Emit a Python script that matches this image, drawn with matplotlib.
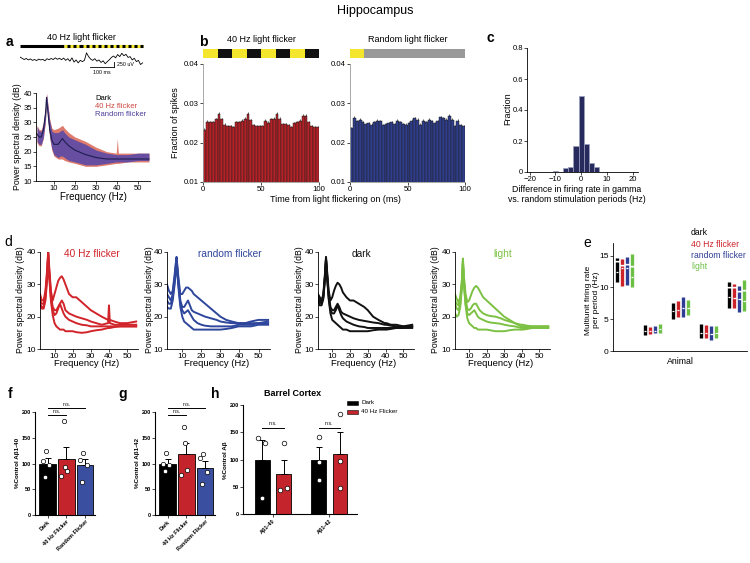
import matplotlib
matplotlib.use("Agg")
import matplotlib.pyplot as plt
import numpy as np
from matplotlib.patches import Rectangle

plt.rcParams['font.family'] = ['Liberation Sans', 'DejaVu Sans']

# ---------------- data ----------------
# panel a: example LFP trace (uV), evenly sampled over 0-510 ms
TRACE_UV = [100, 40, -20, 30, -40, 10, -60, -20, -70, 0, -40,
            -10, -80, 20, -30, 30, -20, 60, -10, 40, -30,
            50, -60, 20, -100, 60, -140, -40, -180, -60, -120,
            -60, 300, 120, 0,
            -60, 20, -100, -40, -160, -80, -220, -120, -30, 80, 150,
            60, 220, 120, 280, 160, 230, 80,
            120, -40, 40, -120, -60, -260, -180]
FREQ_A = [2, 3, 4, 5, 6, 6.5, 7, 8, 9, 10, 12, 13, 14, 15, 17, 20, 25, 30, 35, 39.5, 40, 40.5, 45, 50, 55]
A_RED_HI = [29, 27.5, 27.5, 30, 35.5, 40, 37, 31, 28, 27.5, 28, 28.5, 29, 28, 26.5, 25, 23.5, 21.5, 20, 19.5, 24.5, 19.5, 19.5, 19.5, 19.5]
A_RED_LO = [23, 22, 22, 24.5, 30.5, 37, 32, 24.5, 20.5, 18.5, 17.5, 17.5, 17.5, 17, 16.5, 16, 15, 15, 15.5, 16, 16, 16, 16.5, 16.5, 16.5]
A_RND_HI = [28.5, 27, 27, 29.5, 35, 39.5, 36.5, 30.5, 27, 26.5, 26.5, 27, 27.5, 26.5, 25, 24, 22.5, 20.5, 19.5, 19, 19, 19, 19, 19.5, 19.5]
A_RND_LO = [23.5, 22.5, 22.5, 25, 31, 37, 32, 25, 21, 19, 18, 18.5, 18.5, 18, 17, 16.5, 15.5, 15.5, 16, 16.5, 16.5, 16.5, 16.5, 17, 17]
A_MEAN = [26, 25, 25, 27.5, 33, 38.5, 34.5, 27.5, 24, 22.5, 22.5, 23.5, 24.5, 23.5, 22, 20.5, 19, 18, 17.5, 17.5, 17.5, 17.5, 17.5, 17.5, 17.5]

# panel b: spike fraction per 2.5 ms bin
B_RED = [0.0233, 0.0253, 0.0253, 0.0253, 0.0259, 0.0274, 0.0259, 0.0246, 0.0242, 0.0242,
         0.0240, 0.0253, 0.0253, 0.0256, 0.0261, 0.0274, 0.0257, 0.0244, 0.0242, 0.0242,
         0.0242, 0.0255, 0.0251, 0.0259, 0.0261, 0.0274, 0.0261, 0.0247, 0.0247, 0.0244,
         0.0240, 0.0250, 0.0252, 0.0255, 0.0268, 0.0268, 0.0253, 0.0243, 0.0239, 0.0239]
B_RED_ERR = [0.0004, 0.0004, 0.0003, 0.0003, 0.0004, 0.0004, 0.0003, 0.0003, 0.0003, 0.0003,
             0.0003, 0.0003, 0.0003, 0.0004, 0.0004, 0.0004, 0.0003, 0.0003, 0.0003, 0.0003,
             0.0003, 0.0004, 0.0003, 0.0004, 0.0004, 0.0004, 0.0003, 0.0003, 0.0003, 0.0003,
             0.0003, 0.0003, 0.0003, 0.0004, 0.0004, 0.0004, 0.0003, 0.0003, 0.0003, 0.0003]
B_BLUE = [0.0237, 0.0263, 0.0255, 0.0258, 0.0252, 0.0248, 0.0250, 0.0246, 0.0252, 0.0256,
          0.0254, 0.0244, 0.0248, 0.0250, 0.0252, 0.0248, 0.0256, 0.0252, 0.0248, 0.0246,
          0.0250, 0.0256, 0.0262, 0.0258, 0.0246, 0.0256, 0.0252, 0.0258, 0.0254, 0.0250,
          0.0254, 0.0264, 0.0262, 0.0258, 0.0268, 0.0258, 0.0242, 0.0255, 0.0245, 0.0242]
B_BLUE_ERR = [0.0004, 0.0004, 0.0003, 0.0004, 0.0003, 0.0003, 0.0003, 0.0003, 0.0004, 0.0003,
              0.0003, 0.0003, 0.0003, 0.0003, 0.0004, 0.0003, 0.0004, 0.0003, 0.0003, 0.0003,
              0.0003, 0.0004, 0.0004, 0.0004, 0.0003, 0.0004, 0.0003, 0.0004, 0.0003, 0.0003,
              0.0003, 0.0004, 0.0004, 0.0004, 0.0005, 0.0004, 0.0003, 0.0004, 0.0003, 0.0004]

# panel c: histogram of firing-rate differences
C_CENTERS = [-10, -6, -4, -2, 0, 2, 4, 6]
C_FRACTION = [0.005, 0.025, 0.035, 0.17, 0.49, 0.18, 0.06, 0.03]

# panel d: PSD per animal
FREQ_D = [2, 3, 4, 5, 6, 6.5, 7, 8, 9, 10, 11, 12, 13, 14, 15, 16, 18, 20, 22, 25, 28, 30, 33, 36, 39.5, 40, 40.5, 43, 46, 50, 55]
D_FLICKER = [
    [27, 25, 25, 28, 35, 40, 36, 28, 25, 27, 29, 31, 32, 32.5, 31.5, 30, 27, 26, 26, 24.5, 23, 22, 21, 20, 19, 19, 19, 18.5, 18, 18, 18.5],
    [25, 24, 24, 27, 34, 40, 35, 27, 23, 22, 22, 23, 24, 25, 24, 22, 21, 20.5, 20, 19.5, 19, 18.5, 18, 17.5, 18, 23.5, 18, 17.5, 17.5, 17.5, 17.5],
    [24, 23, 23, 26, 33, 39.5, 34, 26, 22, 20.5, 21, 22.5, 24, 22.5, 21, 20, 19, 18.5, 18, 17.5, 17.3, 17, 17, 17, 17, 17, 17, 17, 17, 17, 17],
    [23.5, 22.5, 22.5, 25, 32, 39, 33, 25, 20.5, 18, 17, 16.5, 16, 16, 16, 15.5, 15.5, 15.5, 15.2, 15, 15.2, 15.5, 15.8, 16, 16.5, 16.5, 16.5, 16.8, 17, 17, 17]]
D_RANDOM = [
    [30, 28, 27, 28, 33, 36, 38.5, 32, 27, 27, 28, 29, 29, 28.5, 28, 27, 26, 25, 24, 22.5, 21, 20, 19, 18.5, 18, 18, 18, 18, 18.5, 19, 19],
    [27, 26, 25, 27, 32, 35, 38, 31, 25, 23, 23, 24, 25, 23.5, 22, 21.5, 21, 20.5, 20, 19.5, 19, 18.5, 18.2, 18, 18, 18, 18, 18, 18, 18, 18.5],
    [25, 24, 24, 26, 31, 34, 37.5, 30, 24, 22, 21, 21.5, 22, 21, 20, 19, 18, 17.5, 17.2, 17, 17, 17, 17, 17, 17.5, 17.5, 17.5, 17.5, 17.5, 18, 18],
    [23, 22.5, 22.5, 25, 30, 33, 37, 29, 23, 20, 18.5, 18, 17.5, 17, 16.5, 16, 16, 16, 16, 16, 16, 16, 16.2, 16.5, 17, 17, 17, 17, 17, 17.5, 17.5]]
D_DARK = [
    [27, 26, 25, 27, 34, 38.5, 35, 28, 25, 26, 28, 29.5, 30.5, 30, 29, 27.5, 26, 25, 25, 24, 23, 22, 20, 19, 18, 18, 18, 17.5, 17.5, 17, 17],
    [26, 25, 24.5, 26.5, 33, 38, 34, 27, 23, 22, 22, 23, 24, 23, 21.5, 21, 20.5, 20, 19.5, 19, 18.7, 18.5, 18.2, 18, 17.5, 17.5, 17.5, 17.2, 17, 17, 17.5],
    [25.5, 24.5, 24, 26, 33, 38, 33.5, 26, 22, 21, 21, 22, 23.5, 22, 20.5, 19.5, 18.5, 18, 17.5, 17, 16.8, 16.5, 16.5, 16.5, 16.5, 16.5, 16.5, 16.5, 16.5, 16.5, 17],
    [25, 23.5, 23.5, 25.5, 32, 37.5, 33, 25.5, 21, 19, 18.5, 18, 17.5, 17, 16.5, 16, 16, 15.5, 15.5, 15.5, 15.5, 15.5, 15.8, 16, 16, 16, 16, 16.2, 16.5, 16.5, 16.5]]
D_LIGHT = [
    [27, 25.5, 24.5, 26, 32, 38, 33, 27, 24.5, 25, 26.5, 28, 29, 29.5, 29, 28, 26, 25, 24, 22.5, 21, 20, 19, 18, 17.5, 17.5, 17.5, 17.2, 17, 17, 17],
    [25, 24, 23.5, 25.5, 31, 37.5, 32, 25.5, 22.5, 22, 22.5, 23.5, 24, 24, 23, 22, 21, 20.5, 20.2, 20, 19.5, 19, 18.5, 18, 17, 17, 17, 17, 17, 17, 17],
    [24, 22.5, 22, 24, 30, 37, 31, 24, 21, 20.5, 21, 21.5, 22, 21, 20, 19.5, 19, 18.5, 18.2, 18, 17.8, 17.5, 17.2, 17, 16.5, 16.5, 16.5, 16.5, 16.5, 16.5, 16.5],
    [21, 20, 20.5, 23, 29.5, 36.5, 30.5, 23.5, 19.5, 18, 17.5, 17, 16.5, 16.5, 16, 16, 16, 16, 15.8, 15.5, 15.5, 15.5, 15.8, 16, 16, 16, 16, 16.2, 16.5, 16.5, 16.5]]

# panel e: multiunit firing rate ranges per animal
E_ANIMALS = [1, 2, 3, 4, 5]
E_DARK_LO = [10.9, 2.5, 5.0, 2.0, 6.8]
E_DARK_HI = [14.6, 4.1, 7.6, 4.2, 10.9]
E_DARK_MED = [12.5, 3.1, 6.3, 2.8, 8.5]
E_RED_LO = [10.2, 2.6, 5.3, 2.0, 6.7]
E_RED_HI = [14.5, 3.8, 7.9, 4.1, 10.5]
E_RED_MED = [13.0, 3.1, 6.5, 2.8, 8.4]
E_BLUE_LO = [10.4, 2.8, 5.3, 1.7, 6.2]
E_BLUE_HI = [14.8, 3.9, 8.7, 4.0, 10.2]
E_BLUE_MED = [13.1, 3.2, 6.8, 2.6, 8.2]
E_GREEN_LO = [10.0, 2.8, 5.6, 2.0, 6.3]
E_GREEN_HI = [15.3, 4.3, 8.1, 4.0, 11.1]
E_GREEN_MED = [11.7, 3.4, 6.8, 2.8, 7.9]

# panels f, g: % control Abeta
FG_CATS = ['Dark', '40 Hz Flicker', 'Random Flicker']
F_MEANS = [100, 108, 97]
F_ERR = [10, 25, 11]
F_PTS = [[125, 105, 98, 73], [182, 93, 85, 75], [121, 107, 98, 65]]
G_MEANS = [100, 119, 92]
G_ERR = [8, 21, 13]
G_PTS = [[120, 100, 97, 85], [170, 140, 88, 77], [118, 110, 83, 60]]

# panel h: barrel cortex
H_GROUPS = ['Aβ1-40', 'Aβ1-42']
H_DARK = [100, 100]
H_DARK_ERR = [36, 23]
H_FLICK = [73, 110]
H_FLICK_ERR = [27, 40]
H_DARK_PTS = [[140, 131, 29], [141, 96, 62]]
H_FLICK_PTS = [[130, 44, 48], [183, 97, 48]]

# ---------------- layout helpers ----------------
W, H = 750, 563
fig = plt.figure(figsize=(W / 100, H / 100), dpi=100)


def axp(x0, y0, x1, y1):
    return fig.add_axes([x0 / W, 1 - y1 / H, (x1 - x0) / W, (y1 - y0) / H])


def txt(x, y, s, **kw):
    kw.setdefault('ha', 'center')
    kw.setdefault('va', 'center')
    return fig.text(x / W, 1 - y / H, s, **kw)


def clean(ax, lw=0.6, color='black', ls=6):
    for s in ['top', 'right']:
        ax.spines[s].set_visible(False)
    for s in ['left', 'bottom']:
        ax.spines[s].set_linewidth(lw)
        ax.spines[s].set_color(color)
    ax.tick_params(labelsize=ls, length=2, width=0.5, pad=1)


YELLOW = '#f3e62c'

txt(375, 11, 'Hippocampus', fontsize=9)
for lab, x, y, bold in [('a', 9, 42, True), ('b', 203, 42, True), ('c', 490, 38, True),
                        ('d', 8, 242, False), ('e', 587, 243, False),
                        ('f', 10, 394, True), ('g', 123, 394, True), ('h', 215, 394, True)]:
    txt(x, y, lab, fontsize=10, weight='bold' if bold else 'normal')

# ---------------- panel a ----------------
axt = axp(20, 33, 145, 80)
axt.set_xlim(0, 520)
axt.set_ylim(-1000, 1250)
axt.axis('off')
axt.plot([0, 185], [650, 650], color='black', lw=2.2, solid_capstyle='butt')
axt.plot([185, 510], [650, 650], color=YELLOW, lw=2.2, solid_capstyle='butt')
t0 = 185 + 12.5
while t0 < 510:
    axt.plot([t0, min(t0 + 12.5, 510)], [650, 650], color='black', lw=2.2, solid_capstyle='butt')
    t0 += 25
t = np.linspace(0, 510, len(TRACE_UV))
axt.plot(t, TRACE_UV, color='black', lw=0.6)
axt.plot([291, 391], [-400, -400], color='black', lw=0.6)
axt.plot([391, 391], [-400, -150], color='black', lw=0.6)
axt.text(341, -520, '100 ms', fontsize=3.8, ha='center', va='top')
axt.text(405, -280, '250 uV', fontsize=3.8, ha='left', va='center')
txt(81, 37, '40 Hz light flicker', fontsize=6.5)

axa = axp(36, 93, 150, 181)
axa.fill_between(FREQ_A, A_RED_LO, A_RED_HI, color='#de7b6c', lw=0)
axa.fill_between(FREQ_A, A_RND_LO, A_RND_HI, color='#5a4aa6', alpha=0.9, lw=0)
axa.plot(FREQ_A, A_MEAN, color='#1e1d50', lw=0.8)
axa.set_xlim(1.5, 55.5)
axa.set_ylim(10, 40)
axa.set_xticks([10, 20, 30, 40, 50])
axa.set_yticks([10, 15, 20, 25, 30, 35, 40])
clean(axa, ls=5.5)
txt(18, 137, 'Power spectral density (dB)', rotation=90, fontsize=6.2)
txt(93, 197, 'Frequency (Hz)', fontsize=7)
txt(95, 98, 'Dark', fontsize=5.5, ha='left', color='black')
txt(95, 106, '40 Hz flicker', fontsize=5.5, ha='left', color='#d0473f')
txt(95, 114, 'Random flicker', fontsize=5.5, ha='left', color='#4a3e98')

# ---------------- panel b ----------------
bins = np.arange(len(B_RED)) * 2.5 + 1.25
for (x0, x1), vals, errs, col, title in [((203, 319), B_RED, B_RED_ERR, '#b52126', '40 Hz light flicker'),
                                         ((350, 465), B_BLUE, B_BLUE_ERR, '#2e3d8c', 'Random light flicker')]:
    ax = axp(x0, 64, x1, 182)
    ax.bar(bins, vals, width=2.5, color=col, edgecolor='#222222', linewidth=0.35,
           yerr=[np.zeros(len(errs)), errs], error_kw=dict(ecolor='#222222', elinewidth=0.5, capsize=0))
    ax.set_xlim(0, 100)
    ax.set_ylim(0.01, 0.04)
    ax.set_xticks([0, 50, 100])
    ax.set_yticks([0.01, 0.02, 0.03, 0.04])
    clean(ax, color='#9a9a9a', ls=5.6)
    axs = axp(x0, 49, x1, 58)
    axs.set_xlim(0, 100)
    axs.set_ylim(0, 1)
    axs.axis('off')
    if col == '#b52126':
        for k in range(8):
            axs.add_patch(Rectangle((k * 12.5, 0), 12.5, 1, color=YELLOW if k % 2 == 0 else '#111111', lw=0))
    else:
        axs.add_patch(Rectangle((0, 0), 12.5, 1, color=YELLOW, lw=0))
        axs.add_patch(Rectangle((12.5, 0), 87.5, 1, color='#999999', lw=0))
    txt((x0 + x1) / 2, 40, title, fontsize=6.5)
txt(335, 199, 'Time from light flickering on (ms)', fontsize=6.5)
txt(176, 123, 'Fraction of spikes', rotation=90, fontsize=6.5)

# ---------------- panel c ----------------
axc = axp(527, 48, 638, 172)
axc.bar(C_CENTERS, C_FRACTION, width=2, color='#262a5c', edgecolor='#9da0bd', linewidth=0.5)
axc.set_xlim(-21, 22)
axc.set_ylim(0, 0.8)
axc.set_xticks([-20, -10, 0, 10, 20])
axc.set_yticks([0, 0.2, 0.4, 0.6, 0.8])
axc.set_yticklabels(['0', '0.2', '0.4', '0.6', '0.8'])
clean(axc, ls=5.5)
txt(508, 109, 'Fraction', rotation=90, fontsize=6.5)
txt(577, 189, 'Difference in firing rate in gamma', fontsize=6.3)
txt(577, 200, 'vs. random stimulation periods (Hz)', fontsize=6.3)

# ---------------- panel d ----------------
D_BOX = [(40, 252, 138, 349), (167, 252, 270, 349), (318, 252, 414, 349), (455, 252, 550, 349)]
D_YLAB_X = [21, 149, 299, 436]
D_SETS = [(D_FLICKER, '#d1242a', '40 Hz flicker'), (D_RANDOM, '#2e469c', 'random flicker'),
          (D_DARK, '#111111', 'dark'), (D_LIGHT, '#7cc143', 'light')]
D_TITLE_X = [92, 230, 361, 503]
for box, ylx, (curves, col, name), tx in zip(D_BOX, D_YLAB_X, D_SETS, D_TITLE_X):
    ax = axp(*box)
    for c in curves:
        ax.plot(FREQ_D, c, color=col, lw=1.4)
    ax.set_xlim(2, 56)
    ax.set_ylim(10, 40)
    ax.set_xticks([10, 20, 30, 40, 50])
    ax.set_yticks([10, 20, 30, 40])
    clean(ax, ls=6)
    txt(ylx, 300, 'Power spectral density (dB)', rotation=90, fontsize=6.2)
    txt((box[0] + box[2]) / 2 - 2, 364, 'Frequency (Hz)', fontsize=6.8)
    txt(tx, 254, name, fontsize=7.3, color=col)

# ---------------- panel e ----------------
axe = axp(613, 243, 747, 351)
E_SETS = [(E_DARK_LO, E_DARK_HI, E_DARK_MED, '#000000'),
          (E_RED_LO, E_RED_HI, E_RED_MED, '#cc2229'),
          (E_BLUE_LO, E_BLUE_HI, E_BLUE_MED, '#2e3d94'),
          (E_GREEN_LO, E_GREEN_HI, E_GREEN_MED, '#6cbf45')]
E_OFFS = [-0.27, -0.09, 0.09, 0.27]
for (lo, hi, med, col), off in zip(E_SETS, E_OFFS):
    xs = np.array(E_ANIMALS) + off
    axe.vlines(xs, lo, hi, color=col, lw=2.4, linestyles=[(0, (6, 0.5))])
    axe.hlines(med, xs - 0.05, xs + 0.05, color='white', lw=0.9)
axe.set_xlim(0.59, 5.37)
axe.set_ylim(0, 17)
axe.set_yticks([0, 5, 10, 15])
axe.set_xticks([])
clean(axe, ls=6)
txt(593, 300, 'Multiunit firing rate\nper period (Hz)', rotation=90, fontsize=6)
txt(680, 362, 'Animal', fontsize=6.3)
for i, (lab, col) in enumerate([('dark', '#000000'), ('40 Hz flicker', '#cc2229'),
                                ('random flicker', '#2e3d94'), ('light', '#6cbf45')]):
    txt(691, 233 + i * 11.3, lab, fontsize=6.2, ha='left', color=col)

# ---------------- panels f, g ----------------
FG_COLS = ['#000000', '#c4242b', '#3a4f9f']
JIT = [[-0.1, -0.25, 0.08, -0.12], [-0.15, -0.08, 0.05, -0.28], [-0.12, -0.28, 0.1, -0.15]]
for (x0, x1), means, errs, pts, ylab in [((35, 95), F_MEANS, F_ERR, F_PTS, '%Control Aβ1-40'),
                                         ((155, 215), G_MEANS, G_ERR, G_PTS, '%Control Aβ1-42')]:
    ax = axp(x0, 412, x1, 515)
    xs = np.arange(len(means))
    ax.bar(xs, means, width=0.9, color=FG_COLS, edgecolor='black', linewidth=0.6,
           yerr=[np.zeros(len(errs)), errs], error_kw=dict(ecolor='black', elinewidth=0.7, capsize=2, capthick=0.7))
    for i, p in enumerate(pts):
        ax.scatter(xs[i] + np.array(JIT[i]), p, s=10, facecolor='white', edgecolor='black', linewidth=0.5, zorder=5)
    ax.set_xlim(-0.68, 2.54)
    ax.set_ylim(0, 200)
    ax.set_yticks([0, 50, 100, 150, 200])
    ax.set_xticks(xs)
    ax.set_xticklabels(FG_CATS, rotation=45, ha='right', rotation_mode='anchor', fontsize=4.6, weight='bold')
    clean(ax, lw=0.8, ls=4)
    for lbl in ax.get_yticklabels():
        lbl.set_weight('bold')
    ax.plot([0, 2], [208, 208], color='black', lw=0.7, clip_on=False)
    ax.plot([0, 1], [195, 195], color='black', lw=0.7, clip_on=False)
    ax.text(1, 210, 'n.s.', fontsize=3.6, ha='center', va='bottom')
    ax.text(0.5, 196.5, 'n.s.', fontsize=3.6, ha='center', va='bottom')
    txt(x0 - 17, 463, ylab, rotation=90, fontsize=4.5, weight='bold')

# ---------------- panel h ----------------
axh = axp(243, 405, 357, 514)
gx = np.arange(len(H_GROUPS))
axh.bar(gx - 0.19, H_DARK, width=0.26, color='#000000', edgecolor='black', linewidth=0.6,
        yerr=[[0, 0], H_DARK_ERR], error_kw=dict(ecolor='black', elinewidth=0.7, capsize=2, capthick=0.7))
axh.bar(gx + 0.19, H_FLICK, width=0.26, color='#c4242b', edgecolor='black', linewidth=0.6,
        yerr=[[0, 0], H_FLICK_ERR], error_kw=dict(ecolor='black', elinewidth=0.7, capsize=2, capthick=0.7))
H_JIT_D = [[-0.07, 0.05, 0.0], [0.0, 0.0, 0.0]]
H_JIT_F = [[0.0, -0.06, 0.06], [0.0, 0.0, 0.0]]
for i in range(len(H_GROUPS)):
    axh.scatter(gx[i] - 0.19 + np.array(H_JIT_D[i]), H_DARK_PTS[i], s=11, facecolor='white',
                edgecolor='black', linewidth=0.5, zorder=5)
    axh.scatter(gx[i] + 0.19 + np.array(H_JIT_F[i]), H_FLICK_PTS[i], s=11, facecolor='white',
                edgecolor='black', linewidth=0.5, zorder=5)
    axh.plot([gx[i] - 0.19, gx[i] + 0.19], [158, 158], color='black', lw=0.7)
    axh.text(gx[i], 161, 'n.s.', fontsize=3.8, ha='center', va='bottom')
axh.set_xlim(-0.53, 1.49)
axh.set_ylim(0, 200)
axh.set_yticks([0, 50, 100, 150, 200])
axh.set_xticks(gx)
axh.set_xticklabels(H_GROUPS, rotation=45, ha='right', rotation_mode='anchor', fontsize=4.6, weight='bold')
clean(axh, lw=0.8, ls=4)
for lbl in axh.get_yticklabels():
    lbl.set_weight('bold')
txt(226, 460, '%Control Aβ', rotation=90, fontsize=4.5, weight='bold')
txt(293, 393, 'Barrel Cortex', fontsize=6.5, weight='bold')
for i, (lab, col) in enumerate([('Dark', '#000000'), ('40 Hz Flicker', '#c4242b')]):
    y = 403 + i * 8.5
    fig.add_artist(Rectangle((347 / W, 1 - (y + 2) / H), 11 / W, 4 / H, transform=fig.transFigure,
                             facecolor=col, edgecolor='black', lw=0.4))
    txt(361, y, lab, fontsize=4.5, ha='left')

fig.savefig('out.png', dpi=100)
